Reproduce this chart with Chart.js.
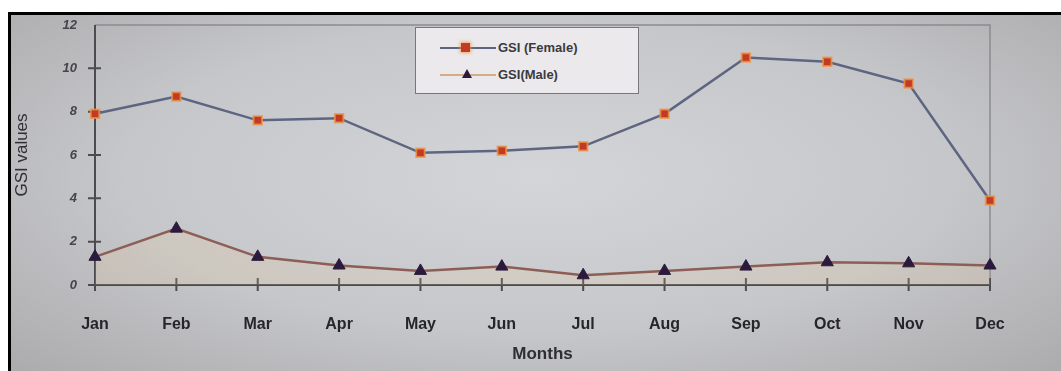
<!DOCTYPE html>
<html>
<head>
<meta charset="utf-8">
<script src="https://cdn.jsdelivr.net/npm/chart.js@4"></script>
<style>
    html, body { margin: 0; padding: 0; background: #ffffff; }
    #frame {
        position: absolute; left: 8px; top: 12px; width: 1053px; height: 359px;
        border-top: 3px solid #000; border-left: 3px solid #000;
        background: radial-gradient(ellipse at 50% 45%, #d4d5d9 0%, #c6c7ca 55%, #abaaad 100%);
    }
    #wrap { position: absolute; left: 0; top: 0; width: 1061px; height: 371px; }
    #legend {
        position: absolute; left: 415px; top: 27px; width: 224px; height: 67px;
        background: #ebe9ec; border: 1px solid #77777b; box-sizing: border-box;
        font-family: "Liberation Sans", Arial, sans-serif; font-weight: bold; font-size: 13px; color: #3a3a40;
    }
    .row { position: absolute; left: 0; height: 16px; }
    .line { position: absolute; left: 24px; top: 7px; width: 56px; height: 2px; }
    .txt { position: absolute; left: 82px; top: 0; white-space: nowrap; }
    .sq { position: absolute; left: 45px; top: 3px; width: 9px; height: 9px; background: #c33a24; box-shadow: 0 0 3px 1px rgba(240,150,70,0.8); }
    .tri { position: absolute; left: 46px; top: 2px; width: 0; height: 0;
           border-left: 5px solid transparent; border-right: 5px solid transparent; border-bottom: 9px solid #2b1a3c; }
</style>
</head>
<body>
<div id="frame"></div>
<div id="wrap"><canvas id="gsiChart" width="1061" height="371"></canvas></div>
<div id="legend">
    <div class="row" style="top:12px"><div class="line" style="background:#5d6580"></div><div class="sq"></div><div class="txt">GSI (Female)</div></div>
    <div class="row" style="top:39px"><div class="line" style="background:#d4ad88"></div><div class="tri"></div><div class="txt">GSI(Male)</div></div>
</div>
<script>
    // Monthly gonadosomatic index
    const months = ['Jan', 'Feb', 'Mar', 'Apr', 'May', 'Jun', 'Jul', 'Aug', 'Sep', 'Oct', 'Nov', 'Dec'];
    const gsiFemale = [7.9, 8.7, 7.6, 7.7, 6.1, 6.2, 6.4, 7.9, 10.5, 10.3, 9.3, 3.9];
    const gsiMale = [1.3, 2.6, 1.3, 0.9, 0.65, 0.85, 0.45, 0.65, 0.85, 1.05, 1.0, 0.9];
    const yTicks = [0, 2, 4, 6, 8, 10, 12];

    const font = '"Liberation Sans", Arial, sans-serif';

    // Plot frame plus tick marks that cross the axes
    const framePlugin = {
        id: 'frame',
        beforeDatasetsDraw(chart) {
            const { ctx, chartArea: a, scales: { x, y } } = chart;
            ctx.save();
            ctx.strokeStyle = '#8c8c90';
            ctx.lineWidth = 1.5;
            ctx.beginPath();
            ctx.moveTo(a.left, a.top); ctx.lineTo(a.right, a.top); ctx.lineTo(a.right, a.bottom);
            ctx.stroke();
            ctx.strokeStyle = '#4b4b50';
            ctx.lineWidth = 2;
            ctx.beginPath();
            ctx.moveTo(a.left, a.top); ctx.lineTo(a.left, a.bottom); ctx.lineTo(a.right, a.bottom);
            x.ticks.forEach((t, i) => {
                const px = x.getPixelForTick(i);
                ctx.moveTo(px, a.bottom - 7); ctx.lineTo(px, a.bottom + 6);
            });
            y.ticks.forEach((t, i) => {
                const py = y.getPixelForTick(i);
                if (i === y.ticks.length - 1) return;
                ctx.moveTo(a.left - 7, py); ctx.lineTo(a.left + 6, py);
            });
            ctx.stroke();
            ctx.restore();
        }
    };

    new Chart(document.getElementById('gsiChart'), {
        type: 'line',
        data: {
            labels: months,
            datasets: [{
                label: 'GSI (Female)',
                data: gsiFemale,
                borderColor: '#5d6580',
                borderWidth: 2.5,
                pointStyle: 'rect',
                pointRadius: 6,
                pointBackgroundColor: '#c33a24',
                pointBorderColor: 'rgba(238,150,70,0.75)',
                pointBorderWidth: 2,
                tension: 0
            }, {
                label: 'GSI(Male)',
                data: gsiMale,
                borderColor: '#8d5e55',
                borderWidth: 2.5,
                backgroundColor: 'rgba(240,205,140,0.16)',
                fill: 'origin',
                pointStyle: 'triangle',
                pointRadius: 7,
                pointBackgroundColor: '#2b1a3c',
                pointBorderColor: '#2b1a3c',
                pointBorderWidth: 1,
                tension: 0
            }]
        },
        options: {
            responsive: false,
            animation: false,
            layout: { padding: { left: 12, right: 71, top: 25, bottom: 4 } },
            plugins: {
                legend: { display: false },
                tooltip: { enabled: false }
            },
            scales: {
                x: {
                    offset: false,
                    grid: { display: false },
                    border: { display: false },
                    ticks: { color: '#26262a', padding: 22, font: { family: font, size: 16, weight: 'bold' } },
                    title: { display: true, text: 'Months', color: '#2e2e33', padding: { top: 4, bottom: 2 },
                             font: { family: font, size: 17, weight: 'bold' } },
                    afterFit: s => { s.height = 82; }
                },
                y: {
                    min: 0,
                    max: 12,
                    grid: { display: false },
                    border: { display: false },
                    afterBuildTicks: s => { s.ticks = yTicks.map(v => ({ value: v })); },
                    ticks: { color: '#44444a', padding: 10, font: { family: font, size: 13, weight: 'bold', style: 'italic' } },
                    title: { display: true, text: 'GSI values', color: '#2f2f34', padding: 0,
                             font: { family: font, size: 17 } },
                    afterFit: s => { s.width = 83; }
                }
            }
        },
        plugins: [framePlugin]
    });
</script>
</body>
</html>
